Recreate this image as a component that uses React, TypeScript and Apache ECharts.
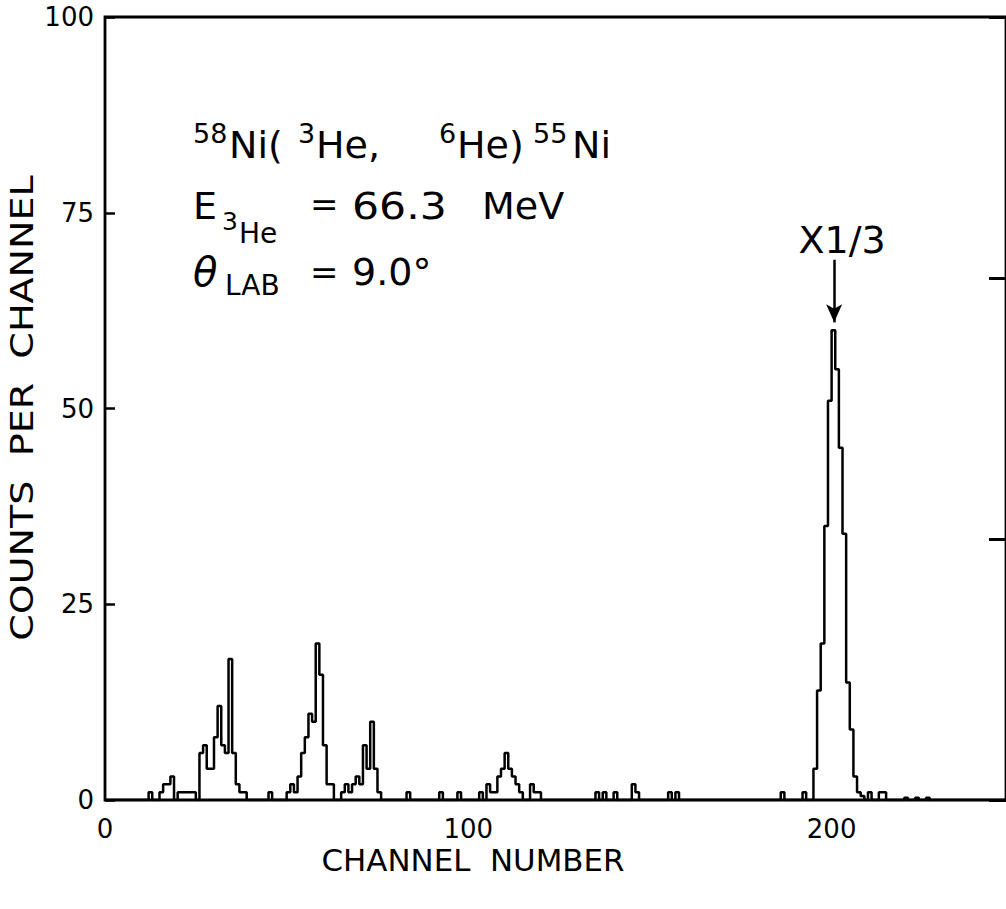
import React, { useEffect, useRef } from "react";
import * as echarts from "echarts";

const FONT = "'DejaVu Sans', 'Liberation Sans', sans-serif";

// Histogram: each run = first channel + counts of consecutive channels (as plotted)
const runStarts = [12, 45, 50, 65, 83, 92, 97, 103, 135, 137, 140, 145, 155, 157, 186, 192, 195, 210, 213, 220, 223, 226];
const runCounts: number[][] = [
  [1, 0, 0, 1, 2, 2, 3, 0, 1, 1, 1, 1, 1, 0, 6, 7, 4, 4, 8, 12, 7, 6, 18, 6, 2, 1, 1],
  [1],
  [1, 2, 1, 3, 6, 8, 11, 10, 20, 16, 7, 2, 2],
  [1, 2, 1, 2, 3, 2, 7, 4, 10, 4, 1],
  [1],
  [1],
  [1],
  [1, 0, 2, 1, 1, 3, 4, 6, 4, 3, 2, 1, 0, 0, 2, 1, 1],
  [1],
  [1],
  [1],
  [2, 1],
  [1],
  [1],
  [1],
  [1],
  [4, 14, 20, 35, 51, 60, 55, 45, 34, 15, 9, 3, 1, 0.5],
  [1],
  [1, 1],
  [0.3],
  [0.3],
  [0.3],
];

const xMin = 0;
const xMax = 248;
const xInterval = 100;
const yMin = 0;
const yMax = 100;
const yInterval = 25;

// arrow marking the x1/3 peak
const arrowChannel = 200.7;
const arrowFrom = 69;
const arrowTo = 61;
const arrowLabel = "X1/3";

export default function App() {
  const ref = useRef<HTMLDivElement>(null);

  useEffect(() => {
    if (!ref.current) return;
    const chart = echarts.init(ref.current, undefined, { renderer: "svg" });

    const counts: number[] = new Array(xMax).fill(0);
    runStarts.forEach((s, i) => {
      runCounts[i].forEach((v, j) => {
        counts[s + j] = v;
      });
    });
    const data: number[][] = counts.map((v, c) => [c, v]);
    data.push([xMax, 0]);

    const txt = (
      text: string,
      x: number,
      y: number,
      fontSize: number,
      extra: any = {},
      scaleX = 1
    ) => ({
      type: "text",
      x,
      y,
      scaleX,
      silent: true,
      style: {
        text,
        fontSize,
        fontFamily: FONT,
        fill: "#000",
        align: "left",
        verticalAlign: "middle",
        ...extra,
      },
    });

    chart.setOption({
      animation: false,
      backgroundColor: "#fff",
      grid: {
        left: 105,
        right: -8,
        top: 17,
        bottom: 109,
        show: true,
        borderColor: "#000",
        borderWidth: 2.8,
        backgroundColor: "transparent",
      },
      xAxis: {
        type: "value",
        min: xMin,
        max: xMax,
        interval: xInterval,
        axisLine: { show: false },
        axisTick: { show: false },
        splitLine: { show: false },
        axisLabel: {
          fontSize: 26,
          fontFamily: FONT,
          color: "#000",
          margin: 16,
          showMaxLabel: false,
          formatter: (v: number) => (v % xInterval === 0 ? String(v) : ""),
        },
      },
      yAxis: [
        {
          type: "value",
          min: yMin,
          max: yMax,
          interval: yInterval,
          axisLine: { show: false },
          axisTick: {
            show: true,
            inside: true,
            length: 10,
            lineStyle: { color: "#000", width: 2.5 },
          },
          splitLine: { show: false },
          axisLabel: {
            fontSize: 26,
            fontFamily: FONT,
            color: "#000",
            margin: 11,
          },
        },
        {
          type: "value",
          position: "right",
          min: 0,
          max: 3,
          interval: 1,
          axisLine: { show: false },
          axisTick: {
            show: true,
            inside: true,
            length: 17,
            lineStyle: { color: "#000", width: 3 },
          },
          splitLine: { show: false },
          axisLabel: { show: false },
        },
      ],
      series: [
        {
          type: "line",
          step: "end",
          symbol: "none",
          data,
          lineStyle: { color: "#000", width: 2.5 },
          markLine: {
            silent: true,
            symbol: ["none", "arrow"],
            symbolSize: [12, 18],
            lineStyle: { color: "#000", width: 2.5, type: "solid" },
            label: {
              show: true,
              position: "start",
              formatter: arrowLabel,
              fontSize: 38,
              fontFamily: FONT,
              color: "#000",
              distance: 4,
              offset: [8, 3],
            },
            data: [
              [
                { coord: [arrowChannel, arrowFrom] },
                { coord: [arrowChannel, arrowTo] },
              ],
            ],
          },
        },
      ],
      graphic: [
        // line 1: 58Ni(3He, 6He)55Ni
        txt("58", 193, 133, 27),
        txt("Ni(", 229, 145, 38),
        txt("3", 298, 133, 27),
        txt("He,", 316, 145, 38),
        txt("6", 439, 133, 27),
        txt("He)", 457, 145, 38),
        txt("55", 533, 133, 27),
        txt("Ni", 572, 145, 38),
        // line 2: E3He = 66.3 MeV
        txt("E", 193, 206, 38),
        txt("3", 222, 221, 25),
        txt("He", 239, 233, 28),
        txt("=", 310, 204, 34),
        txt("66.3", 352, 206, 38, {}, 1.12),
        txt("MeV", 482, 206, 38),
        // line 3: theta_LAB = 9.0°
        txt("θ", 193, 272, 40, { fontStyle: "italic" }),
        txt("LAB", 225, 285, 28),
        txt("=", 310, 272, 34),
        txt("9.0°", 352, 272, 38),
        // axis titles
        {
          type: "text",
          x: 22,
          y: 408,
          rotation: Math.PI / 2,
          scaleX: 1.19,
          silent: true,
          style: {
            text: "COUNTS  PER  CHANNEL",
            fontSize: 32,
            fontFamily: FONT,
            fill: "#000",
            align: "center",
            verticalAlign: "middle",
          },
        },
        {
          type: "text",
          x: 473,
          y: 861,
          scaleX: 1.03,
          silent: true,
          style: {
            text: "CHANNEL  NUMBER",
            fontSize: 30,
            fontFamily: FONT,
            fill: "#000",
            align: "center",
            verticalAlign: "middle",
          },
        },
      ],
    });

    return () => {
      chart.dispose();
    };
  }, []);

  return (
    <div
      ref={ref}
      style={{
        position: "fixed",
        left: 0,
        top: 0,
        width: 1006,
        height: 909,
        background: "#fff",
      }}
    />
  );
}
